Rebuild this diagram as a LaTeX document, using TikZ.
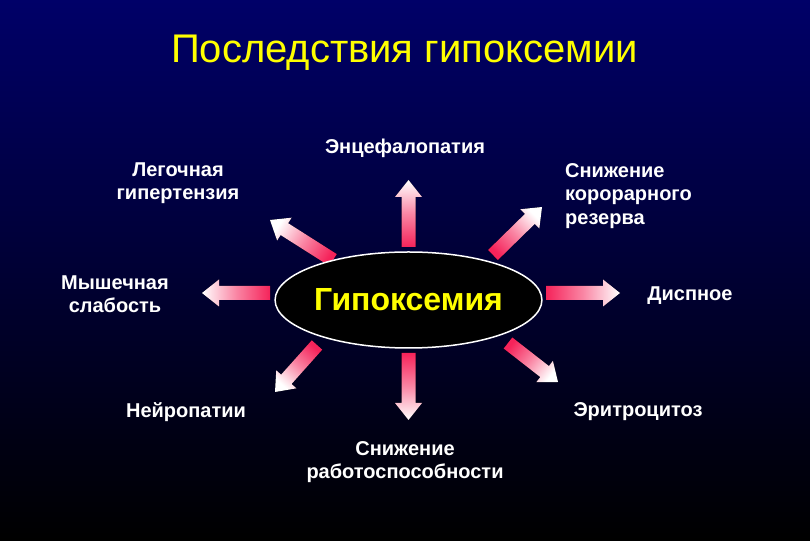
\documentclass[tikz,border=0pt]{standalone}
\usepackage{fontspec}
\setmainfont{Liberation Sans}
\usepackage{xcolor}
\usepackage{tikz}
\usetikzlibrary{calc,shapes.geometric}

\definecolor{bgnavy}{RGB}{0,0,104}
\definecolor{arrowred}{RGB}{245,35,90}
\definecolor{titleyellow}{RGB}{255,255,0}

% block arrow from #1 (tail) to #2 (tip), #3 = shading angle
\newcommand{\blockarrow}[3]{%
  \coordinate (#1base) at ($(#2)!17pt!(#1)$);
  \fill[bottom color=arrowred, top color=white, middle color=arrowred!55!white, shading angle=#3]
    ($(#1)!7pt!90:(#2)$) -- ($(#1base)!7pt!-90:(#1)$) -- ($(#1base)!13.5pt!-90:(#1)$)
    -- (#2) -- ($(#1base)!13.5pt!90:(#1)$) -- ($(#1base)!7pt!90:(#1)$)
    -- ($(#1)!7pt!-90:(#2)$) -- cycle;
}

\begin{document}
\begin{tikzpicture}[
    x=1pt, y=1pt,
    heading/.style={font=\fontsize{40}{46}\selectfont, text=titleyellow, inner sep=0},
    effect/.style={font=\bfseries\fontsize{20}{23.5}\selectfont, text=white, align=center, inner sep=0},
    core/.style={ellipse, draw=white, line width=1.5pt, fill=black, minimum width=265, minimum height=96, inner sep=0,
                 font=\bfseries\fontsize{32}{36}\selectfont, text=titleyellow}
]

% Background
\useasboundingbox (0,0) rectangle (810,540);
\fill[top color=bgnavy, bottom color=black] (0,0) rectangle (810,540);

% Title
\node[heading, anchor=base] (title) at (404.5,477) {Последствия гипоксемии};

% Arrow ends
\coordinate (encstart) at (408.5,293);  \coordinate (encend) at (408.5,360);
\coordinate (pulmstart) at (333,280);   \coordinate (pulmend) at (270,320);
\coordinate (corstart) at (493,285);    \coordinate (corend) at (542,333);
\coordinate (muscstart) at (270,247);   \coordinate (muscend) at (202,247);
\coordinate (dyspstart) at (546,247);   \coordinate (dyspend) at (620,247);
\coordinate (neurstart) at (317,195);   \coordinate (neurend) at (275,148);
\coordinate (workstart) at (408.5,187); \coordinate (workend) at (408.5,120);
\coordinate (erytstart) at (508,197);   \coordinate (erytend) at (558,158);

% Arrows
\blockarrow{encstart}{encend}{0}
\blockarrow{pulmstart}{pulmend}{57.6}
\blockarrow{corstart}{corend}{-45.6}
\blockarrow{muscstart}{muscend}{90}
\blockarrow{dyspstart}{dyspend}{-90}
\blockarrow{neurstart}{neurend}{138.2}
\blockarrow{workstart}{workend}{180}
\blockarrow{erytstart}{erytend}{-128}

% Center
\node[core] (hypox) at (408.5,240) {Гипоксемия};

% Effects
\node[effect] (enceph) at (405,392) {Энцефалопатия};
\node[effect] (pulmhyp) at (178,357) {Легочная\\гипертензия};
\node[effect, anchor=west, align=left] (coronary) at (565,344) {Снижение\\корорарного\\резерва};
\node[effect] (muscle) at (115,246) {Мышечная\\слабость};
\node[effect] (dyspnea) at (690,244) {Диспное};
\node[effect] (neuro) at (186,128) {Нейропатии};
\node[effect] (erythro) at (638,128) {Эритроцитоз};
\node[effect] (workcap) at (405,78) {Снижение\\работоспособности};

\end{tikzpicture}
\end{document}
